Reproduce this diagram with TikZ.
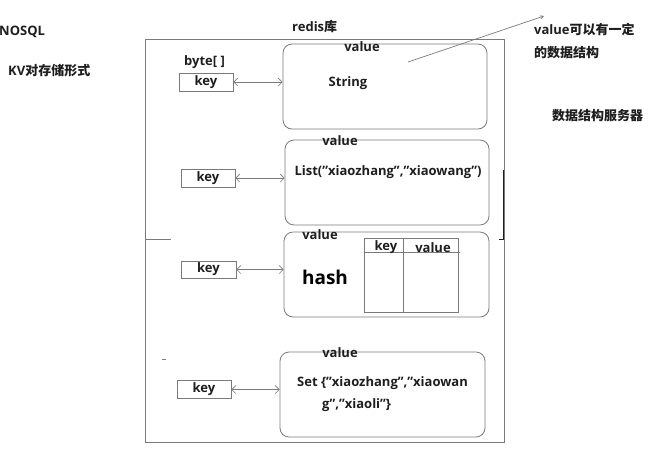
\documentclass[tikz,border=0pt]{standalone}
\usepackage{fontspec}
\setmainfont{Open Sans}
\newfontfamily\cjk{Noto Sans CJK SC}
\usetikzlibrary{arrows.meta}
\definecolor{ln}{HTML}{7A7A7A}
\definecolor{tx}{HTML}{1E1E1E}
\tikzset{
  vbox/.style={draw=ln, line width=0.8pt, rounded corners=9pt, minimum width=204pt, minimum height=85pt, inner sep=0pt},
  kbox/.style={draw=ln, line width=0.8pt, minimum width=54pt, minimum height=18pt, inner sep=0pt, text=tx},
  lbl/.style={text=tx, inner sep=0pt},
  dbl/.style={draw=ln, line width=0.6pt, {Straight Barb[length=4pt,width=8pt]}-{Straight Barb[length=4pt,width=8pt]}},
}
\begin{document}
\begin{tikzpicture}[x=1pt,y=-1pt, font=\bfseries\fontsize{13}{15}\selectfont]
\useasboundingbox (0,0) rectangle (661,459);
% outer frame
\draw[ln, line width=0.8pt] (145,39) rectangle (504,442);
\draw[ln, line width=0.8pt] (145,239) -- (171,239);
\draw[tx, line width=0.8pt] (503,170) -- (503,239) -- (499,239);
\draw[ln, line width=0.8pt] (162,359) -- (166,359);
% value boxes
\node[vbox] (v1) at (385,86.5) {};
\node[vbox] (v2) at (387,182.5) {};
\node[vbox, minimum width=205pt] (v3) at (386.5,274.5) {};
\node[vbox, minimum width=205pt] (v4) at (382.5,394.5) {};
% key boxes
\node[kbox] (k1) at (206,82) {key};
\node[kbox] (k2) at (208,178) {key};
\node[kbox, minimum width=55pt, minimum height=17pt] (k3) at (208.5,269.5) {key};
\node[kbox] (k4) at (204,389.5) {key};
% arrows
\draw[dbl] (k1.east) -- (k1.east -| v1.west);
\draw[dbl] (k2.east) -- (k2.east -| v2.west);
\draw[dbl] (k3.east) -- (k3.east -| v3.west);
\draw[dbl] (k4.east) -- (k4.east -| v4.west);
% labels
\node[lbl, anchor=west] (nosql) at (-1,32) {NOSQL};
\node[lbl, anchor=west] (kv) at (8,71) {KV{\cjk 对存储形式}};
\node[lbl, anchor=west] (redis) at (292,27) {redis{\cjk 库}};
\node[lbl, anchor=west] (byte) at (184,62) {byte[ ]};
\node[lbl] (val1) at (362,47) {value};
\node[lbl] (val2) at (340,141) {value};
\node[lbl] (val3) at (320,235) {value};
\node[lbl] (val4) at (340,353) {value};
\node[lbl] (str) at (348,83) {String};
\node[lbl] (lst) at (388,172) {List("xiaozhang","xiaowang")};
\node[lbl, font=\bfseries\fontsize{19}{22}\selectfont, text=black] (hash) at (325,277) {hash};
\node[lbl, anchor=west] (set1) at (297,383) {Set \{"xiaozhang","xiaowan};
\node[lbl, anchor=west] (set2) at (322,405) {g","xiaoli"\}};
% hash table
\draw[ln, line width=0.8pt] (364,238) rectangle (458,312);
\draw[ln, line width=0.8pt] (403,238) -- (403,312);
\draw[ln, line width=0.8pt] (364,252) -- (460,252);
\node[lbl] (hk) at (386,247) {key};
\node[lbl] (hv) at (433,248) {value};
% right notes
\node[lbl, anchor=west] (note1) at (534,29) {value{\cjk 可以有一定}};
\node[lbl, anchor=west] (note2) at (534,53) {\cjk 的数据结构};
\node[lbl, anchor=west] (srv) at (552,116) {\cjk 数据结构服务器};
\coordinate (ls) at (408,62);
\coordinate (le) at (544,16);
\draw[ln, line width=0.7pt, -{Straight Barb[length=3pt,width=3pt]}] (ls) -- (le);
\end{tikzpicture}
\end{document}
